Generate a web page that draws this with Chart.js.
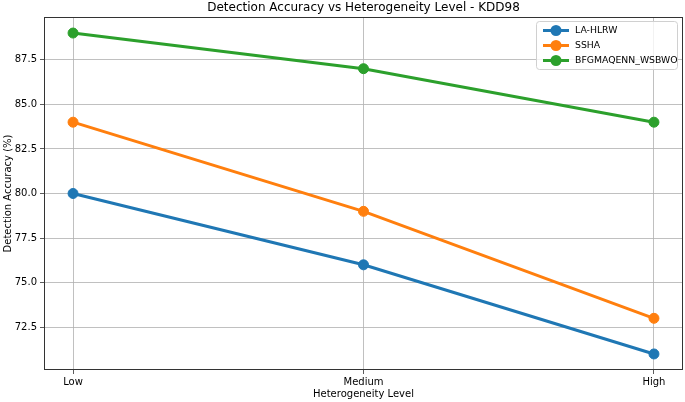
<!DOCTYPE html>
<html>
<head>
<meta charset="utf-8">
<script src="https://cdn.jsdelivr.net/npm/chart.js@4.4.1/dist/chart.umd.min.js"></script>
<style>
  html, body { margin: 0; padding: 0; background: #fff; overflow: hidden; }
  canvas { display: block; }
</style>
</head>
<body>
<canvas id="chart" width="685" height="402" style="width:685px;height:402px"></canvas>
<script>
const levels = ['Low', 'Medium', 'High'];
const laHlrw = [80, 76, 71];
const ssha = [84, 79, 73];
const bfgmaqenn = [89, 87, 84];
const seriesNames = ['LA-HLRW', 'SSHA', 'BFGMAQENN_WSBWO'];
const seriesColors = ['#1f77b4', '#ff7f0e', '#2ca02c'];
const yTicks = [72.5, 75.0, 77.5, 80.0, 82.5, 85.0, 87.5];

const FONT = 'DejaVu Sans';

function toPoints(vals) {
  return vals.map((v, i) => ({ x: i, y: v }));
}

const datasets = [laHlrw, ssha, bfgmaqenn].map((vals, i) => ({
  label: seriesNames[i],
  data: toPoints(vals),
  borderColor: seriesColors[i],
  backgroundColor: seriesColors[i],
  pointBackgroundColor: seriesColors[i],
  pointBorderColor: seriesColors[i],
  borderWidth: 3,
  pointRadius: 5,
  pointBorderWidth: 1,
  pointHoverRadius: 5,
  tension: 0,
  fill: false
}));

// frame, title, axis titles and legend like matplotlib
const decor = {
  id: 'decor',
  afterDraw(chart) {
    const { ctx, chartArea: a } = chart;
    ctx.save();
    ctx.strokeStyle = '#333';
    ctx.lineWidth = 1;
    ctx.strokeRect(a.left + 0.5, a.top + 0.5, a.right - a.left - 1, a.bottom - a.top - 1);

    ctx.fillStyle = '#000';
    ctx.textAlign = 'center';
    ctx.textBaseline = 'middle';
    ctx.font = `12px "${FONT}"`;
    ctx.fillText('Detection Accuracy vs Heterogeneity Level - KDD98', (a.left + a.right) / 2, 8);

    ctx.font = `10px "${FONT}"`;
    ctx.fillText('Heterogeneity Level', (a.left + a.right) / 2, 394);
    ctx.save();
    ctx.translate(8, (a.top + a.bottom) / 2);
    ctx.rotate(-Math.PI / 2);
    ctx.fillText('Detection Accuracy (%)', 0, 0);
    ctx.restore();

    // legend, anchored to the top right corner of the plot
    const lw = 141, lh = 48;
    const lx = a.right - 6 - lw, ly = a.top + 4;
    ctx.fillStyle = 'rgba(255,255,255,0.8)';
    ctx.strokeStyle = '#d0d0d0';
    ctx.beginPath();
    ctx.roundRect(lx + 0.5, ly + 0.5, lw, lh, 3);
    ctx.fill();
    ctx.stroke();
    ctx.textAlign = 'left';
    ctx.font = `9.3px "${FONT}"`;
    seriesNames.forEach((name, i) => {
      const y = ly + 9.5 + i * 15;
      ctx.strokeStyle = seriesColors[i];
      ctx.lineWidth = 3;
      ctx.beginPath();
      ctx.moveTo(lx + 7, y);
      ctx.lineTo(lx + 33, y);
      ctx.stroke();
      ctx.fillStyle = seriesColors[i];
      ctx.beginPath();
      ctx.arc(lx + 20, y, 5.5, 0, Math.PI * 2);
      ctx.fill();
      ctx.fillStyle = '#000';
      ctx.fillText(name, lx + 39, y + 0.5);
    });
    ctx.restore();
  }
};

new Chart(document.getElementById('chart'), {
  type: 'line',
  data: { datasets },
  options: {
    responsive: false,
    animation: false,
    devicePixelRatio: 1,
    layout: { autoPadding: false, padding: { left: 0, right: 2, top: 17, bottom: 0 } },
    plugins: {
      legend: { display: false },
      title: { display: false },
      tooltip: { enabled: false }
    },
    scales: {
      x: {
        type: 'linear',
        min: -0.1,
        max: 2.1,
        afterBuildTicks: s => { s.ticks = levels.map((_, i) => ({ value: i })); },
        afterFit: s => { s.height = 32; s.paddingRight = 0; s.paddingLeft = 0; },
        ticks: {
          callback: v => levels[v],
          color: '#000',
          font: { family: FONT, size: 10 },
          padding: 2,
          maxRotation: 0
        },
        grid: { color: '#b0b0b0', lineWidth: 0.8, tickLength: 4, tickColor: '#333' },
        border: { display: false }
      },
      y: {
        min: 70.1,
        max: 89.9,
        afterBuildTicks: s => { s.ticks = yTicks.map(v => ({ value: v })); },
        afterFit: s => { s.width = 44; },
        ticks: {
          callback: v => v.toFixed(1),
          color: '#000',
          font: { family: FONT, size: 10 },
          padding: 3
        },
        grid: { color: '#b0b0b0', lineWidth: 0.8, tickLength: 4, tickColor: '#333' },
        border: { display: false }
      }
    }
  },
  plugins: [decor]
});
</script>
</body>
</html>
